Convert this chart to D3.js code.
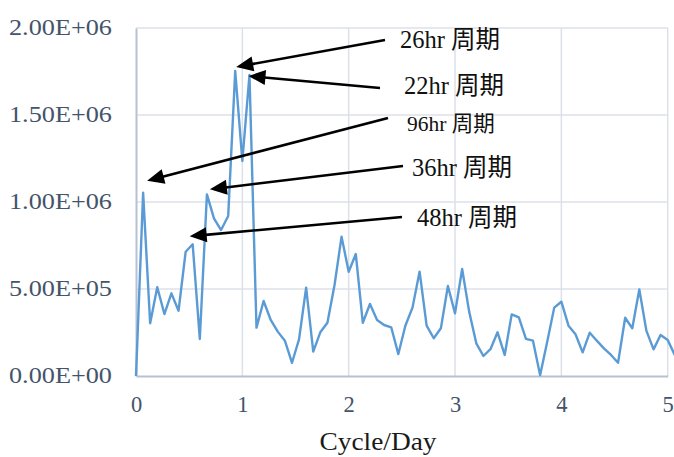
<!DOCTYPE html>
<html>
<head>
<meta charset="utf-8">
<script src="https://cdn.jsdelivr.net/npm/d3@7"></script>
<style>
  html, body { margin: 0; padding: 0; background: #fff; }
  svg { display: block; }
</style>
</head>
<body>
<svg id="chart" width="674" height="457"></svg>
<script>
// ---- data ----
const freq = [0, 0.067, 0.133, 0.2, 0.267, 0.333, 0.4, 0.467, 0.533, 0.6,
  0.667, 0.733, 0.8, 0.867, 0.933, 1.0, 1.067, 1.133, 1.2, 1.267,
  1.333, 1.4, 1.467, 1.533, 1.6, 1.667, 1.733, 1.8, 1.867, 1.933,
  2.0, 2.067, 2.133, 2.2, 2.267, 2.333, 2.4, 2.467, 2.533, 2.6,
  2.667, 2.733, 2.8, 2.867, 2.933, 3.0, 3.067, 3.133, 3.2, 3.267,
  3.333, 3.4, 3.467, 3.533, 3.6, 3.667, 3.733, 3.8, 3.867, 3.933,
  4.0, 4.067, 4.133, 4.2, 4.267, 4.333, 4.4, 4.467, 4.533, 4.6,
  4.667, 4.733, 4.8, 4.867, 4.933, 5.0, 5.067];
const power = [0, 1053000, 303000, 510000, 356000, 475000, 375000, 714000, 757000, 213000,
  1044000, 906000, 839000, 920000, 1753000, 1236000, 1730000, 278000, 431000, 322000,
  255000, 203000, 76000, 210000, 507000, 140000, 251000, 306000, 523000, 801000,
  599000, 701000, 306000, 414000, 322000, 293000, 280000, 126000, 289000, 393000,
  600000, 289000, 217000, 274000, 517000, 360000, 615000, 370000, 188000, 115000,
  154000, 251000, 121000, 354000, 337000, 213000, 203000, 5000, 197000, 393000,
  427000, 289000, 240000, 136000, 249000, 203000, 159000, 121000, 76000, 335000,
  274000, 498000, 259000, 153000, 236000, 207000, 120000];
const xTicks = [0, 1, 2, 3, 4, 5];
const yTicks = [0, 500000, 1000000, 1500000, 2000000];
const xTitle = "Cycle/Day";
const annoLabels = ["26hr 周期", "22hr 周期", "96hr 周期", "36hr 周期", "48hr 周期"];
const annoTargetFreq = [0.933, 1.067, 0.067, 0.667, 0.533];

// ---- layout ----
const svg = d3.select("#chart");
const x = d3.scaleLinear().domain([0, 5]).range([136, 667.7]);
const y = d3.scaleLinear().domain([0, 2000000]).range([376, 28]);

function sci(v) {
  const s = v.toExponential(2).toUpperCase();
  return s.replace(/E([+-])(\d)$/, "E$10$2");
}

// gridlines
const grid = svg.append("g");
grid.selectAll("line.h").data(yTicks.filter(d => d > 0)).join("line")
  .attr("x1", x(0)).attr("x2", x(5))
  .attr("y1", d => y(d)).attr("y2", d => y(d))
  .attr("stroke", "#DCE1E9").attr("stroke-width", 1.5);
grid.selectAll("line.v").data(xTicks.filter(d => d > 0)).join("line")
  .attr("x1", d => x(d)).attr("x2", d => x(d))
  .attr("y1", y(0)).attr("y2", y(2000000))
  .attr("stroke", "#DCE1E9").attr("stroke-width", 1.5);

// axes via d3
const yAxis = svg.append("g").attr("transform", `translate(${x(0)},0)`)
  .call(d3.axisLeft(y).tickValues(yTicks).tickFormat(sci).tickSize(0).tickPadding(24));
const xAxis = svg.append("g").attr("transform", `translate(0,${y(0)})`)
  .call(d3.axisBottom(x).tickValues(xTicks).tickFormat(d3.format("d")).tickSize(0).tickPadding(22));
[yAxis, xAxis].forEach(a => {
  a.select(".domain").attr("stroke", "#B7C1D1").attr("stroke-width", 2);
  a.selectAll("text").attr("fill", "#44546A")
    .style("font-family", "'Liberation Serif', 'Times New Roman', serif")
    .style("font-size", "22.5px");
});
yAxis.selectAll("text").attr("dy", "0.28em")
  .attr("textLength", 103).attr("lengthAdjust", "spacingAndGlyphs");
xAxis.selectAll("text").attr("dy", "0.6em");

// line
const line = d3.line().x((d, i) => x(freq[i])).y(d => y(d));
svg.append("path").datum(power)
  .attr("d", line)
  .attr("fill", "none")
  .attr("stroke", "#5B9BD5")
  .attr("stroke-width", 2.4)
  .attr("stroke-linejoin", "round");

// x title
svg.append("text").attr("x", 378).attr("y", 450)
  .attr("text-anchor", "middle")
  .attr("fill", "#1a1a1a")
  .style("font-family", "'Liberation Serif', 'Times New Roman', serif")
  .style("font-size", "26px")
  .attr("textLength", 117).attr("lengthAdjust", "spacingAndGlyphs")
  .text(xTitle);

// annotations (layout: text anchor, tail point, tip offset from target point)
const annoLayout = [
  { tx: 400, ty: 48, fs: 24.5, tail: [385, 40], tipOff: [1, -4] },
  { tx: 404, ty: 94, fs: 24.5, tail: [380, 88], tipOff: [-1, 1] },
  { tx: 407, ty: 131, fs: 21.5, tail: [388, 118], tipOff: [4, -12] },
  { tx: 412, ty: 176, fs: 24.5, tail: [403, 166], tipOff: [3, -5] },
  { tx: 417, ty: 226, fs: 24.5, tail: [402, 217], tipOff: [-3, -8] }
];
const ag = svg.append("g");
annoLabels.forEach((lab, i) => {
  const L = annoLayout[i];
  const idx = freq.indexOf(annoTargetFreq[i]);
  const tipX = x(freq[idx]) + L.tipOff[0];
  const tipY = y(power[idx]) + L.tipOff[1];
  const dx = L.tail[0] - tipX, dy = L.tail[1] - tipY;
  const len = Math.hypot(dx, dy);
  const ux = dx / len, uy = dy / len;
  const hl = 17, hw = 7.5;
  const bx = tipX + ux * hl, by = tipY + uy * hl;
  ag.append("line")
    .attr("x1", L.tail[0]).attr("y1", L.tail[1])
    .attr("x2", bx - ux * 1).attr("y2", by - uy * 1)
    .attr("stroke", "#000").attr("stroke-width", 2.6);
  ag.append("polygon")
    .attr("points", [[tipX, tipY], [bx - uy * hw, by + ux * hw], [bx + uy * hw, by - ux * hw]].map(p => p.join(",")).join(" "))
    .attr("fill", "#000");
  ag.append("text")
    .attr("x", L.tx).attr("y", L.ty)
    .attr("fill", "#111")
    .style("font-family", "'Liberation Serif', 'Noto Sans CJK JP', serif")
    .style("font-size", L.fs + "px")
    .text(lab);
});
</script>
</body>
</html>
